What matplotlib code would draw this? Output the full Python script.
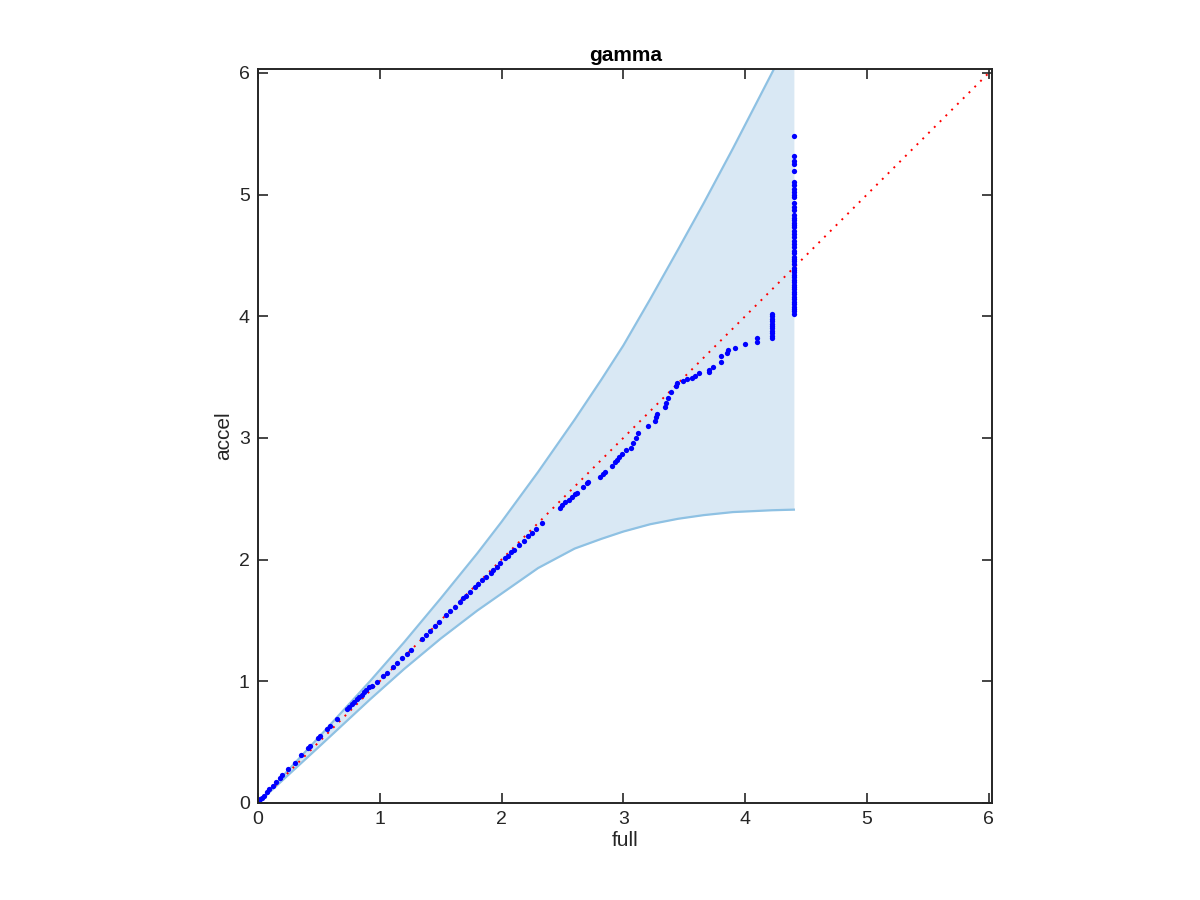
import matplotlib
matplotlib.use("Agg")
import matplotlib.pyplot as plt

plt.rcParams["font.family"] = ["Liberation Sans", "DejaVu Sans"]

# quantile pairs (full vs accel)
full = [0.00, 0.01, 0.02, 0.03, 0.05, 0.07, 0.09, 0.12, 0.15, 0.18,
        0.20, 0.25, 0.30, 0.35, 0.41, 0.43, 0.49, 0.51, 0.57, 0.59,
        0.65, 0.73, 0.75, 0.77, 0.79, 0.81, 0.83, 0.85, 0.87, 0.89, 0.91,
        0.94, 0.98, 1.03, 1.06, 1.11, 1.14, 1.18, 1.22, 1.26, 1.35,
        1.38, 1.41, 1.45, 1.49, 1.54, 1.58, 1.62, 1.66, 1.68, 1.71,
        1.74, 1.78, 1.81, 1.84, 1.87, 1.91, 1.93, 1.96, 1.99, 2.03,
        2.05, 2.08, 2.10, 2.14, 2.18, 2.22, 2.25, 2.28, 2.33,
        2.48, 2.50, 2.52, 2.55, 2.58, 2.60, 2.62, 2.67, 2.70, 2.71,
        2.81, 2.83, 2.85, 2.91, 2.93, 2.95, 2.96, 2.99, 3.02, 3.06,
        3.08, 3.10, 3.12, 3.20, 3.26, 3.27, 3.28, 3.34, 3.35, 3.37,
        3.39, 3.43, 3.44, 3.49, 3.52, 3.56, 3.59, 3.62, 3.70, 3.70,
        3.74, 3.80, 3.80, 3.85, 3.86, 3.92, 4.00, 4.10, 4.10]
accel = [0.00, 0.02, 0.03, 0.04, 0.06, 0.09, 0.11, 0.14, 0.17, 0.20,
         0.23, 0.28, 0.33, 0.39, 0.45, 0.47, 0.53, 0.55, 0.61, 0.63,
         0.69, 0.77, 0.79, 0.81, 0.83, 0.85, 0.87, 0.89, 0.91, 0.93, 0.95,
         0.96, 0.99, 1.04, 1.07, 1.12, 1.15, 1.19, 1.22, 1.26, 1.35,
         1.38, 1.41, 1.45, 1.49, 1.54, 1.58, 1.61, 1.65, 1.68, 1.70,
         1.73, 1.77, 1.80, 1.83, 1.86, 1.89, 1.91, 1.94, 1.97, 2.01,
         2.03, 2.06, 2.08, 2.12, 2.15, 2.19, 2.22, 2.25, 2.30,
         2.42, 2.45, 2.47, 2.49, 2.51, 2.54, 2.55, 2.60, 2.63, 2.64,
         2.68, 2.70, 2.72, 2.77, 2.80, 2.82, 2.84, 2.87, 2.90, 2.92,
         2.96, 3.00, 3.04, 3.10, 3.14, 3.17, 3.20, 3.25, 3.29, 3.33,
         3.38, 3.43, 3.45, 3.47, 3.48, 3.49, 3.51, 3.53, 3.54, 3.56,
         3.58, 3.62, 3.67, 3.70, 3.72, 3.74, 3.77, 3.79, 3.82]

# tied values at the top end
col1_x = 4.22
col1_y = [3.82, 3.84, 3.86, 3.88, 3.90, 3.92, 3.94, 3.96, 3.98, 4.00, 4.02]
col2_x = 4.40
col2_y = [4.02, 4.04, 4.06, 4.08, 4.10, 4.12, 4.14, 4.16, 4.18, 4.20,
          4.22, 4.24, 4.26, 4.28, 4.30, 4.32, 4.34, 4.36, 4.38, 4.40,
          4.43, 4.45, 4.47, 4.49, 4.52, 4.54, 4.57, 4.59, 4.62, 4.65,
          4.68, 4.70, 4.73, 4.75, 4.77, 4.79, 4.81, 4.83, 4.87, 4.90,
          4.93, 4.98, 5.00, 5.02, 5.05, 5.08, 5.10, 5.19, 5.25, 5.28,
          5.32, 5.48]

# envelope
band_x = [0.0, 0.25, 0.5, 0.92, 1.2, 1.5, 1.8, 2.0, 2.3, 2.6, 2.82, 3.0,
          3.22, 3.45, 3.66, 3.9, 4.22, 4.4]
band_hi = [0.0, 0.27, 0.54, 1.0, 1.32, 1.68, 2.05, 2.31, 2.72, 3.15, 3.48,
           3.76, 4.14, 4.55, 4.93, 5.38, 6.0, 6.36]
band_lo = [0.0, 0.23, 0.46, 0.85, 1.10, 1.35, 1.58, 1.72, 1.93, 2.09, 2.17,
           2.23, 2.29, 2.335, 2.365, 2.39, 2.405, 2.41]

lim = 6.03

fig = plt.figure(figsize=(12, 9), dpi=100)
ax = fig.add_axes([0.215, 0.108, 0.612, 0.815])

ax.fill_between(band_x, band_lo, band_hi, color="#d9e8f4", linewidth=0)
ax.plot(band_x, band_hi, color="#8ec1e3", lw=1.6)
ax.plot(band_x, band_lo, color="#8ec1e3", lw=1.6)

ax.plot([0, lim], [0, lim], color="#ff0000", lw=1.4, linestyle=(0, (1, 3.2)))

ax.plot(full, accel, "o", color="#0000ff", ms=3.8, mew=0)
ax.plot([col1_x] * len(col1_y), col1_y, "o", color="#0000ff", ms=3.8, mew=0)
ax.plot([col2_x] * len(col2_y), col2_y, "o", color="#0000ff", ms=3.8, mew=0)

ax.set_xlim(0, lim)
ax.set_ylim(0, lim)
ax.set_xticks(range(7))
ax.set_yticks(range(7))
ax.tick_params(direction="in", top=True, right=True, length=7, width=1.2,
               color="#262626", labelcolor="#262626", labelsize=14, pad=6)
for s in ax.spines.values():
    s.set_linewidth(1.4)
    s.set_color("#262626")

ax.set_xlabel("full", fontsize=15, color="#262626", labelpad=2)
ax.set_ylabel("accel", fontsize=15, color="#262626", labelpad=4)
ax.set_title("gamma", fontsize=15, fontweight="bold", pad=6)

fig.savefig("out.png", dpi=100)
